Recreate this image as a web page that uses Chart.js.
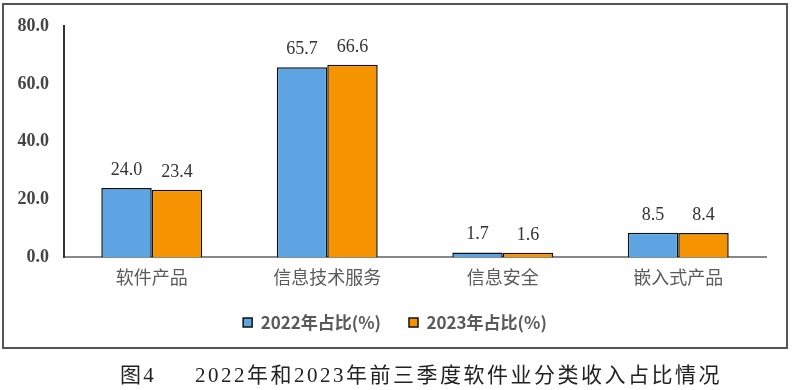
<!DOCTYPE html>
<html>
<head>
<meta charset="utf-8">
<script src="https://cdn.jsdelivr.net/npm/chart.js@4.4.0/dist/chart.umd.min.js"></script>
<style>
  html, body { margin: 0; padding: 0; background: #fff; }
  body { width: 792px; height: 390px; position: relative; overflow: hidden; }
  #wrap { position: absolute; left: 0; top: 0; width: 792px; height: 370px; }
  #frame { position: absolute; left: 2px; top: 3px; width: 782px; height: 342px; border: 2px solid #555; pointer-events: none; }
  #caption { position: absolute; left: 0; width: 792px; top: 358px; text-align: center;
    font-family: "Liberation Serif", "Noto Sans CJK SC", serif; font-size: 21px; letter-spacing: 2.5px;
    color: #222; white-space: pre; padding-left: 50px; box-sizing: border-box; }
</style>
</head>
<body>
<div id="wrap"><canvas id="chart" width="792" height="370"></canvas></div>
<div id="frame"></div>
<div id="caption">图4     2022年和2023年前三季度软件业分类收入占比情况</div>
<script>
// categories and series (%)
const categories = ['软件产品', '信息技术服务', '信息安全', '嵌入式产品'];
const share2022 = [24.0, 65.7, 1.7, 8.5];
const share2023 = [23.4, 66.6, 1.6, 8.4];
const seriesNames = ['2022年占比(%)', '2023年占比(%)'];
const yTicks = [0, 20, 40, 60, 80];

// value labels above bars
const valueLabels = {
  id: 'valueLabels',
  afterDatasetsDraw(chart) {
    const ctx = chart.ctx;
    ctx.save();
    ctx.font = '18px "Liberation Serif", serif';
    ctx.fillStyle = '#333';
    ctx.textAlign = 'center';
    ctx.textBaseline = 'alphabetic';
    chart.data.datasets.forEach((ds, i) => {
      chart.getDatasetMeta(i).data.forEach((bar, j) => {
        ctx.fillText(ds.data[j].toFixed(1), bar.x, bar.y - 13);
      });
    });
    ctx.restore();
  }
};

// nudge the legend: a bit right and up, like the original
const legendNudge = {
  id: 'legendNudge',
  afterLayout(chart) {
    const lg = chart.legend;
    lg.left += 24;
    lg.top -= 11;
    lg.bottom -= 11;
  }
};

const ctx = document.getElementById('chart').getContext('2d');
new Chart(ctx, {
  type: 'bar',
  data: {
    labels: categories,
    datasets: [
      { label: seriesNames[0], data: share2022, backgroundColor: '#5DA5E2', borderColor: '#111', borderWidth: 1.5 },
      { label: seriesNames[1], data: share2023, backgroundColor: '#F59300', borderColor: '#111', borderWidth: 1.5 }
    ]
  },
  options: {
    responsive: false,
    animation: false,
    layout: { padding: { top: 26, right: 26, left: 0, bottom: 18 } },
    datasets: { bar: { categoryPercentage: 0.575, barPercentage: 1.0 } },
    scales: {
      x: {
        grid: { display: false, drawTicks: false },
        border: { display: true, color: '#888', width: 2 },
        ticks: { color: '#5a5a5a', padding: 9, font: { family: '"Noto Sans CJK SC", sans-serif', size: 18 } }
      },
      y: {
        min: 0, max: 80,
        afterFit(s) { s.width = 64; },
        afterBuildTicks(s) { s.ticks = yTicks.map(v => ({ value: v })); },
        grid: { display: false, drawOnChartArea: false, drawTicks: true, tickLength: 6, tickColor: '#333' },
        border: { display: true, color: '#333', width: 2 },
        ticks: {
          color: '#444', padding: 9,
          font: { family: '"Liberation Serif", serif', size: 18, weight: 'bold' },
          callback: v => Number(v).toFixed(1)
        }
      }
    },
    plugins: {
      legend: {
        position: 'bottom',
        labels: {
          boxWidth: 9, boxHeight: 9, padding: 28, color: '#5a5a5a',
          font: { family: '"Noto Sans CJK SC", sans-serif', size: 17, weight: 'bold' }
        }
      },
      tooltip: { enabled: false }
    }
  },
  plugins: [valueLabels, legendNudge]
});
</script>
</body>
</html>
